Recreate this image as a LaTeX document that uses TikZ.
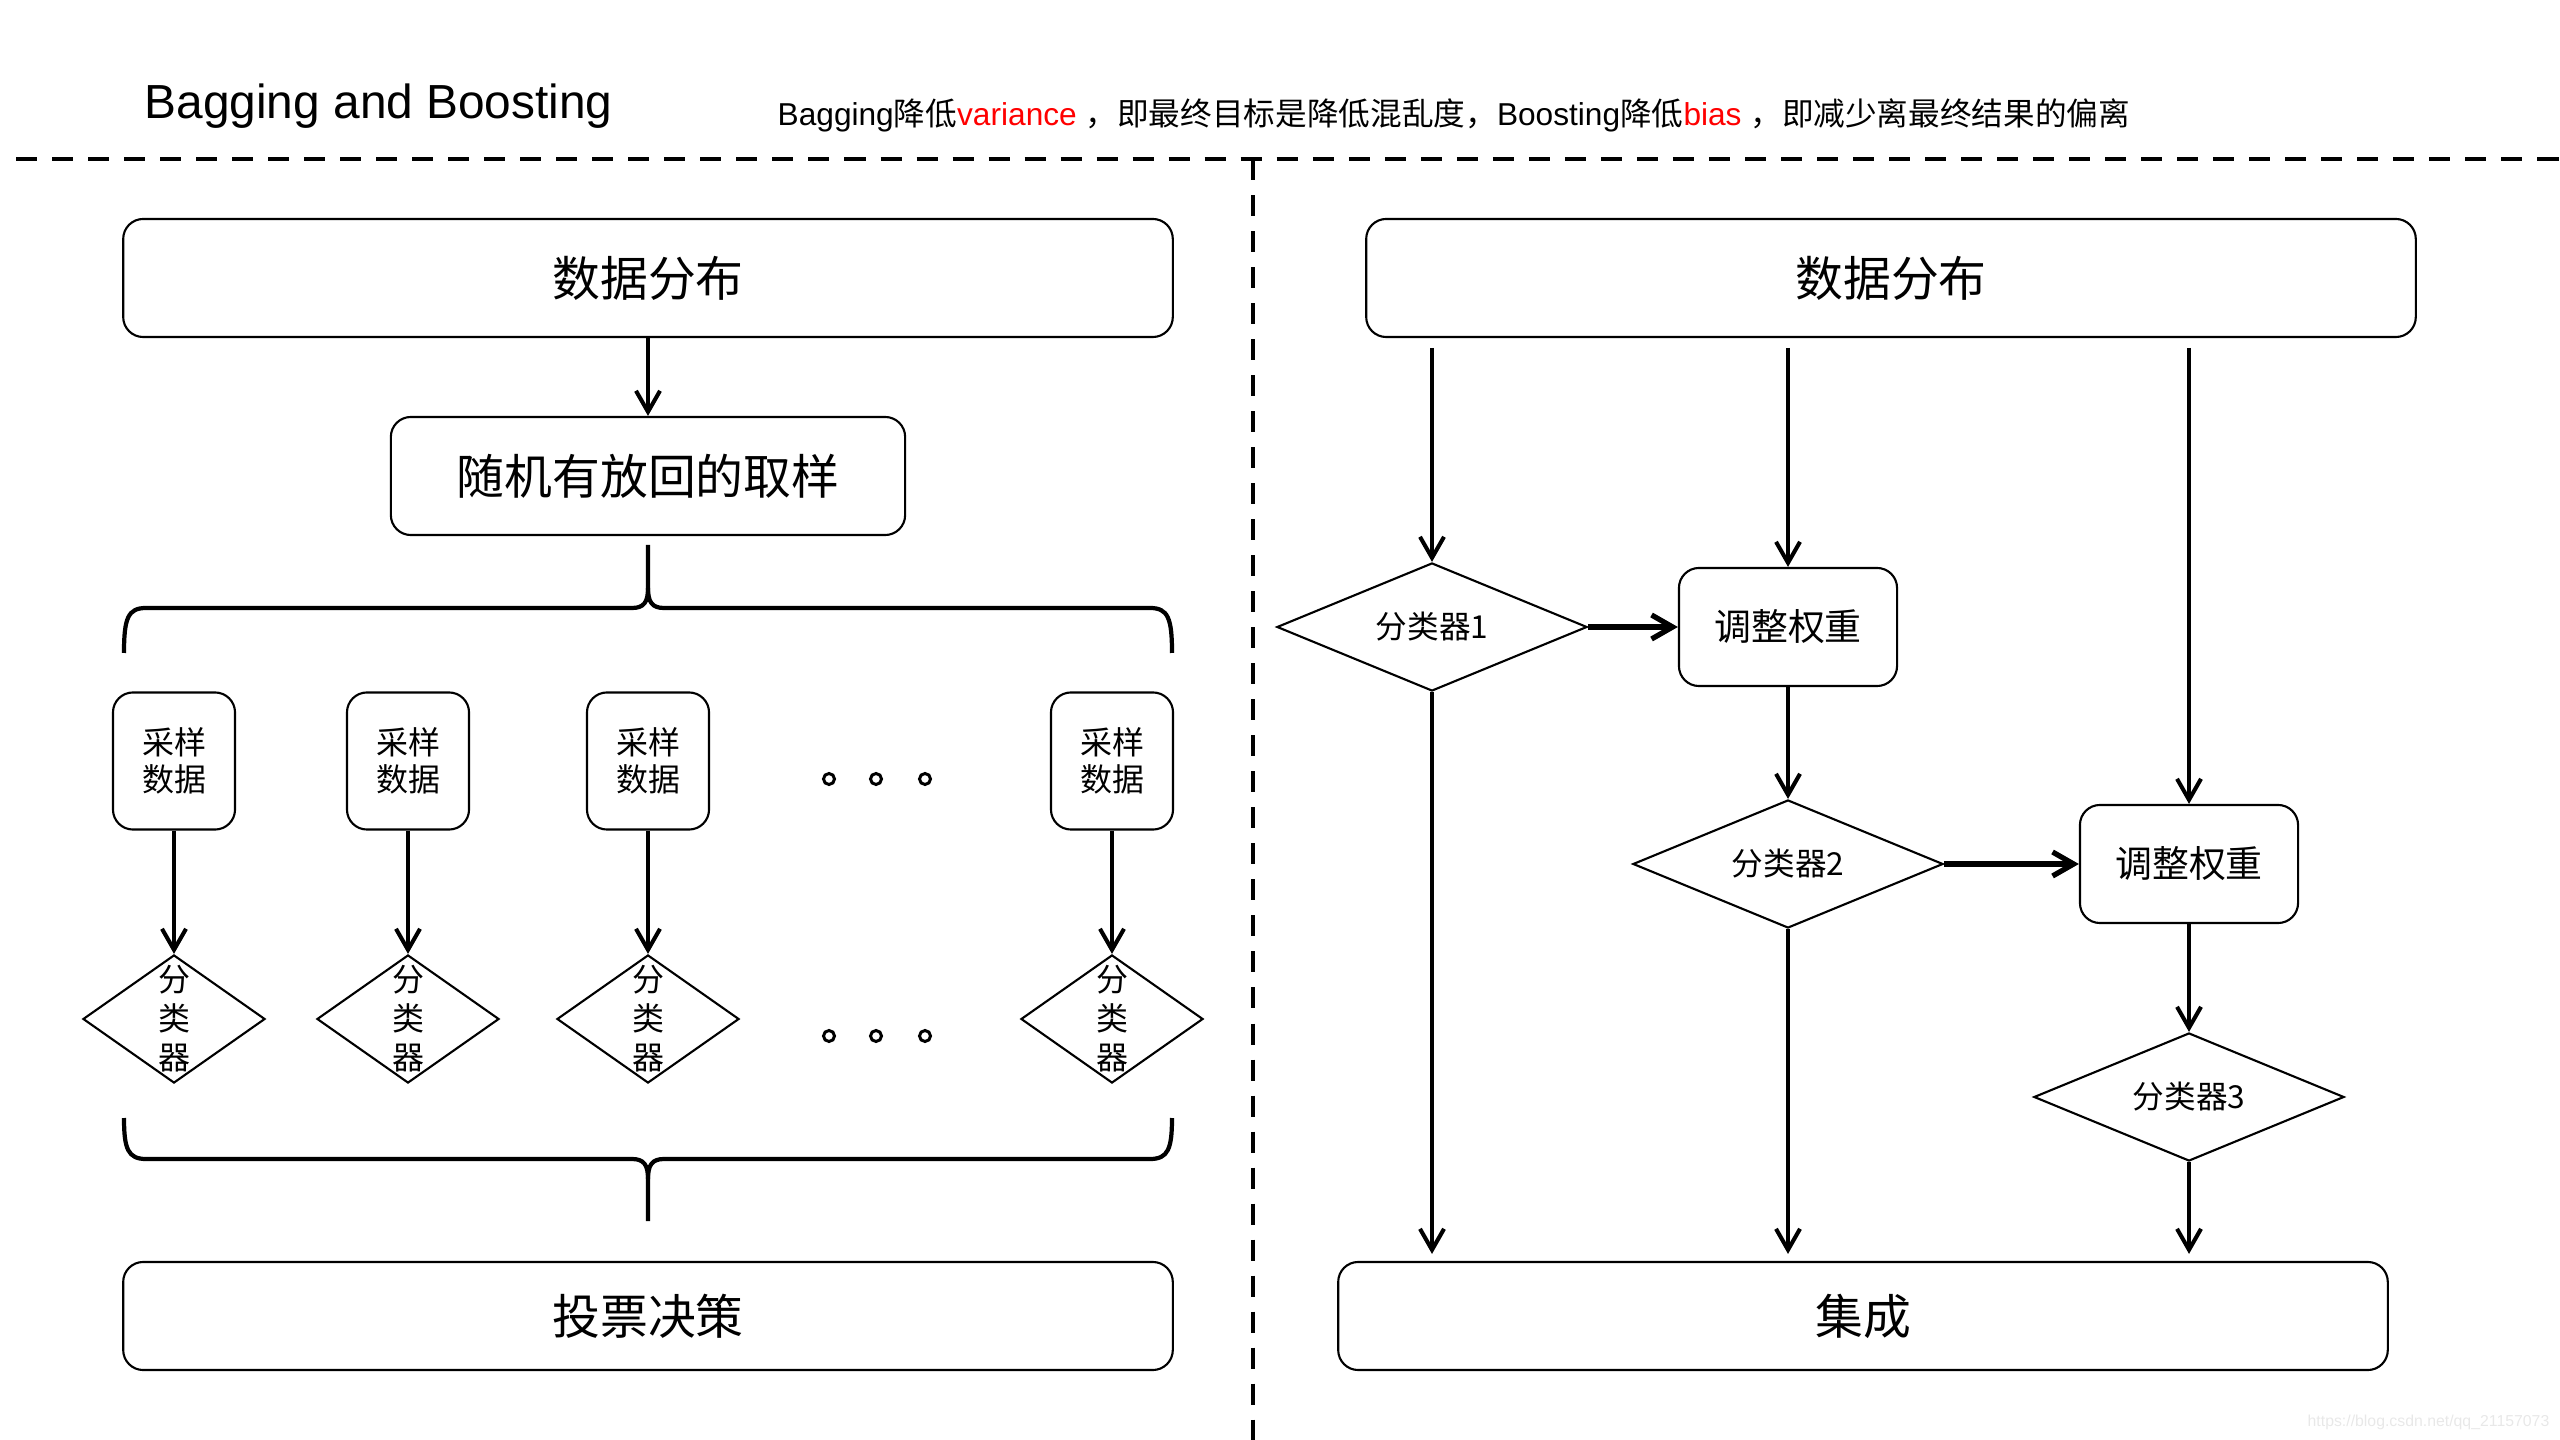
\documentclass[tikz,border=0pt]{standalone}
\usepackage{fontspec}
\setmainfont{Liberation Sans}
\newfontfamily\cjk{Noto Sans CJK SC}
\usetikzlibrary{arrows.meta,shapes.geometric,positioning}

\newcommand{\zh}[1]{{\cjk #1}}

\begin{document}
\begin{tikzpicture}[x=0.01cm, y=-0.01cm,
  bigbox/.style={draw, line width=0.6pt, rounded corners=0.2cm, minimum width=10.49cm, minimum height=1.18cm, font=\cjk\fontsize{13.6}{16}\selectfont},
  samplebox/.style={draw, line width=0.6pt, rounded corners=0.2cm, minimum width=1.22cm, minimum height=1.37cm, align=center, font=\cjk\fontsize{9.1}{10.4}\selectfont},
  weightbox/.style={draw, line width=0.6pt, rounded corners=0.2cm, minimum width=2.18cm, minimum height=1.18cm, font=\cjk\fontsize{10.5}{12}\selectfont},
  vtext/.style={inner sep=0pt, align=center, font=\cjk\fontsize{9.1}{11.1}\selectfont},
  smalldec/.style={draw, diamond, line width=0.6pt, inner sep=0pt, minimum width=1.82cm, minimum height=1.28cm, label={[vtext]center:分\\类\\器}},
  bigdec/.style={draw, diamond, aspect=2.4, line width=0.6pt, inner sep=0pt, minimum width=3.1cm, minimum height=1.28cm, font=\cjk\fontsize{9}{11}\selectfont},
  arr/.style={-{Straight Barb[length=2.1mm, width=2.4mm]}, line width=1.15pt},
  thickarr/.style={arr, line width=1.5pt},
  brace/.style={line width=1.2pt},
  sep/.style={line width=1.3pt, dash pattern=on 0.21cm off 0.15cm},
  dotc/.style={line width=0.85pt}
]

  \useasboundingbox (0,0) rectangle (2560,1440);

  % heading
  \node[anchor=base west, inner sep=0pt, font=\fontsize{13.6}{16}\selectfont] (title) at (144,119) {Bagging and Boosting};
  \node[anchor=base west, inner sep=0pt, font=\fontsize{9}{10}\selectfont] (note) at (777,126)
    {Bagging\zh{降低}\textcolor{red}{variance} \zh{，即最终目标是降低混乱度，}Boosting\zh{降低}\textcolor{red}{bias} \zh{，即减少离最终结果的偏离}};

  % separators
  \draw[sep] (16,159) -- (2560,159);
  \draw[sep] (1253,159) -- (1253,1440);

  % Bagging
  \node[bigbox] (ldata) at (648,278) {数据分布};
  \node[bigbox, minimum width=5.14cm] (resample) at (648,476) {随机有放回的取样};
  \draw[arr] (ldata) -- (resample);

  % upper brace
  \coordinate (ltip) at (648,545);
  \draw[brace] (124,653) .. controls (124,618) and (128,608) .. (146,608) -- (632,608) .. controls (644,608) and (648,602) .. (648,588) -- (ltip);
  \draw[brace] (648,588) .. controls (648,602) and (652,608) .. (664,608) -- (1150,608) .. controls (1168,608) and (1172,618) .. (1172,653);

  % samples and classifiers
  \node[samplebox] (s1) at (174,761) {采样\\数据};
  \node[samplebox] (s2) at (408,761) {采样\\数据};
  \node[samplebox] (s3) at (648,761) {采样\\数据};
  \node[samplebox] (s4) at (1112,761) {采样\\数据};
  \node[smalldec] (c1) at (174,1019) {};
  \node[smalldec] (c2) at (408,1019) {};
  \node[smalldec] (c3) at (648,1019) {};
  \node[smalldec] (c4) at (1112,1019) {};
  \draw[arr] (s1) -- (c1);
  \draw[arr] (s2) -- (c2);
  \draw[arr] (s3) -- (c3);
  \draw[arr] (s4) -- (c4);

  % ellipsis dots
  \draw[dotc] (829,779) circle[radius=0.055cm] (876,779) circle[radius=0.055cm] (925,779) circle[radius=0.055cm];
  \draw[dotc] (829,1036) circle[radius=0.055cm] (876,1036) circle[radius=0.055cm] (925,1036) circle[radius=0.055cm];

  % lower brace
  \coordinate (lbot) at (648,1221);
  \draw[brace] (124,1118) .. controls (124,1149) and (128,1159) .. (146,1159) -- (632,1159) .. controls (644,1159) and (648,1165) .. (648,1179) -- (lbot);
  \draw[brace] (648,1179) .. controls (648,1165) and (652,1159) .. (664,1159) -- (1150,1159) .. controls (1168,1159) and (1172,1149) .. (1172,1118);

  \node[bigbox, minimum height=1.08cm] (vote) at (648,1316) {投票决策};

  % Boosting
  \node[bigbox] (rdata) at (1891,278) {数据分布};
  \coordinate (r1) at (1432,348);
  \coordinate (r2) at (1788,348);
  \coordinate (r3) at (2189,348);
  \node[bigdec] (d1) at (1432,627) {分类器1};
  \node[weightbox] (w1) at (1788,627) {调整权重};
  \node[bigdec] (d2) at (1788,864) {分类器2};
  \node[weightbox] (w2) at (2189,864) {调整权重};
  \node[bigdec] (d3) at (2189,1097) {分类器3};
  \node[bigbox, minimum height=1.08cm] (ens) at (1863,1316) {集成};

  \draw[arr] (r1) -- (d1.north);
  \draw[arr] (r2) -- (w1.north);
  \draw[arr] (r3) -- (w2.north);
  \draw[thickarr] (d1.east) -- (w1.west);
  \draw[arr] (w1.south) -- (d2.north);
  \draw[thickarr] (d2.east) -- (w2.west);
  \draw[arr] (w2.south) -- (d3.north);
  \draw[arr, shorten >=0.07cm] (d1.south) -- (d1.south |- ens.north);
  \draw[arr, shorten >=0.07cm] (d2.south) -- (d2.south |- ens.north);
  \draw[arr, shorten >=0.07cm] (d3.south) -- (d3.south |- ens.north);

  \node[anchor=east, inner sep=0pt, text=black!9, font=\fontsize{4.5}{5}\selectfont] (mark) at (2550,1422) {https://blog.csdn.net/qq\_21157073};

\end{tikzpicture}
\end{document}
